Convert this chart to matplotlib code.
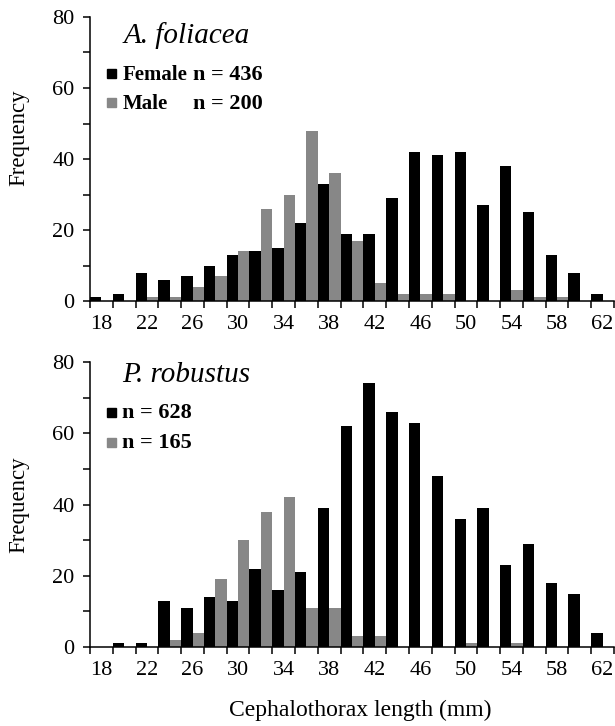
import matplotlib
matplotlib.use("Agg")
import matplotlib.pyplot as plt
from matplotlib.ticker import FixedLocator, NullFormatter, FixedFormatter

plt.rcParams['font.family'] = ['Liberation Serif', 'DejaVu Serif']

# ---------------- data ----------------
categories = [18, 20, 22, 24, 26, 28, 30, 32, 34, 36, 38, 40, 42, 44, 46, 48, 50, 52, 54, 56, 58, 60, 62]
tick_labels = ['18', '22', '26', '30', '34', '38', '42', '46', '50', '54', '58', '62']

afol_female = [1, 2, 8, 6, 7, 10, 13, 14, 15, 22, 33, 19, 19, 29, 42, 41, 42, 27, 38, 25, 13, 8, 2]
afol_male   = [0, 0, 1, 1, 4, 7, 14, 26, 30, 48, 36, 17, 5, 2, 2, 2, 0, 0, 3, 1, 1, 0, 0]

prob_female = [0, 1, 1, 13, 11, 14, 13, 22, 16, 21, 39, 62, 74, 66, 63, 48, 36, 39, 23, 29, 18, 15, 4]
prob_male   = [0, 0, 0, 2, 4, 19, 30, 38, 42, 11, 11, 3, 3, 0, 0, 0, 1, 0, 1, 0, 0, 0, 0]

species = ['A. foliacea', 'P. robustus']
legend_a = [('Female', 'n = 436'), ('Male', 'n = 200')]
legend_b = [('', 'n = 628'), ('', 'n = 165')]

BLACK = '#000000'
GREY = '#878787'

W, H = 615, 726
fig = plt.figure(figsize=(W / 100, H / 100), dpi=100)


def px_axes(left, right, top, bottom):
    return fig.add_axes([left / W, 1 - bottom / H, (right - left) / W, (bottom - top) / H])


def draw_panel(ax, fem, mal):
    n = len(categories)
    pos = list(range(n))
    ax.bar([p - 0.5 for p in pos], fem, width=0.5, align='edge', color=BLACK, linewidth=0)
    ax.bar([p for p in pos], mal, width=0.5, align='edge', color=GREY, linewidth=0)
    ax.set_xlim(-0.5, n - 0.5)
    ax.set_ylim(0, 80)
    for s in ['top', 'right']:
        ax.spines[s].set_visible(False)
    for s in ['left', 'bottom']:
        ax.spines[s].set_linewidth(1.1)
    ax.xaxis.set_major_locator(FixedLocator([p - 0.5 for p in range(n + 1)]))
    ax.xaxis.set_major_formatter(NullFormatter())
    label_pos = [categories.index(int(t)) for t in tick_labels]
    ax.xaxis.set_minor_locator(FixedLocator(label_pos))
    ax.xaxis.set_minor_formatter(FixedFormatter(tick_labels))
    ax.tick_params(axis='x', which='major', direction='out', length=5, width=1.1)
    ax.tick_params(axis='x', which='minor', length=0, labelsize=16, pad=10)
    ax.set_yticks([0, 20, 40, 60, 80])
    ax.set_yticks([10, 30, 50, 70], minor=True)
    ax.tick_params(axis='y', which='both', direction='out', length=5, width=1.1, labelsize=16, pad=6)
    ax.set_ylabel('Frequency', fontsize=16.5, labelpad=17)


ax1 = px_axes(90, 614, 17, 301)
draw_panel(ax1, afol_female, afol_male)
ax1.yaxis.label.set_y((301 - 138) / 284)
ax2 = px_axes(90, 614, 362, 647)
draw_panel(ax2, prob_female, prob_male)


def ftext(x, y, s, **kw):
    fig.text(x / W, 1 - y / H, s, **kw)


def square(x, y, color):
    fig.patches.append(plt.Rectangle((x / W, 1 - (y + 9) / H), 9 / W, 9 / H,
                                     transform=fig.transFigure, color=color, figure=fig))


ftext(360, 716, 'Cephalothorax length (mm)', fontsize=17, ha='center', va='baseline')

# panel A annotations
ftext(124, 43, species[0], fontsize=21, style='italic', va='baseline')
square(107, 69, BLACK)
square(107, 98, GREY)
ftext(123, 80, legend_a[0][0], fontsize=15, fontweight='bold', va='baseline')
ftext(123, 109, legend_a[1][0], fontsize=15, fontweight='bold', va='baseline')
ftext(193, 80, legend_a[0][1], fontsize=16, fontweight='bold', va='baseline')
ftext(193, 109, legend_a[1][1], fontsize=16, fontweight='bold', va='baseline')

# panel B annotations
ftext(122, 382, species[1], fontsize=21, style='italic', va='baseline')
square(107, 408, BLACK)
square(107, 438, GREY)
ftext(122, 418, legend_b[0][1], fontsize=16, fontweight='bold', va='baseline')
ftext(122, 448, legend_b[1][1], fontsize=16, fontweight='bold', va='baseline')

fig.savefig('out.png', dpi=100)
